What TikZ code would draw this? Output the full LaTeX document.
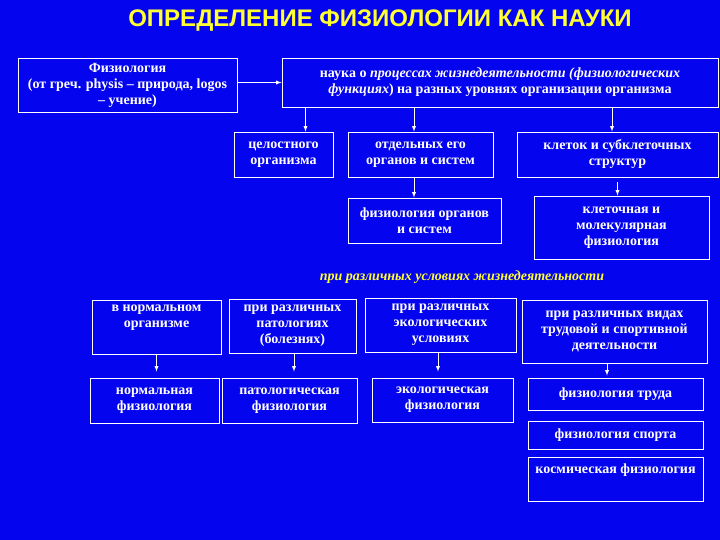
\documentclass[tikz,border=0pt]{standalone}
\usepackage{fontspec}
\setmainfont{Liberation Serif}
\newfontfamily\headfont{Liberation Sans}
\usepackage{tikz}
\usetikzlibrary{calc}
\definecolor{slideblue}{RGB}{4,4,238}
\definecolor{slideyellow}{RGB}{255,255,50}
\tikzset{
    box/.style={draw=white, line width=0.9pt, text=white, align=center, inner sep=2pt,
        font=\bfseries\fontsize{14}{16}\selectfont},
    arrow/.style={->, >=latex, white, line width=0.9pt},
    headline/.style={text=slideyellow, font=\headfont\bfseries\fontsize{24}{26}\selectfont},
    sublabel/.style={text=slideyellow, font=\bfseries\itshape\fontsize{14}{16}\selectfont}
}

\begin{document}
\begin{tikzpicture}[x=1pt, y=-1pt]
            \fill[slideblue] (0,0) rectangle (720,540);

            % 1. Title
            \node[headline] (title) at (380,21) {ОПРЕДЕЛЕНИЕ ФИЗИОЛОГИИ КАК НАУКИ};

            % 2. Definition
            \node[box, minimum width=219pt, minimum height=54pt] (phys) at (127.5,85)
                {Физиология\\(от греч. physis – природа, logos\\– учение)};
            \node[box, minimum width=436pt, minimum height=49pt] (sci) at (500,82.5)
                {наука о \textit{процессах жизнедеятельности (физиологических}\\\textit{функциях}) на разных уровнях организации организма};
            \draw[arrow] (phys.east |- sci.west) -- (sci.west);

            % 3. Levels of organisation
            \node[box, minimum width=99pt, minimum height=45pt] (whole) at (283.5,154.5) {целостного\\организма};
            \node[box, minimum width=145pt, minimum height=45pt] (organs) at (420.5,154.5) {отдельных его\\органов и систем};
            \node[box, minimum width=201pt, minimum height=45pt] (cells) at (617.5,154.5) {клеток и субклеточных\\структур};
            \draw[arrow] ([xshift=22pt]whole.north |- sci.south) -- ([xshift=22pt]whole.north);
            \draw[arrow] ([xshift=-6.5pt]organs.north |- sci.south) -- ([xshift=-6.5pt]organs.north);
            \draw[arrow] ([xshift=-5.5pt]cells.north |- sci.south) -- ([xshift=-5.5pt]cells.north);

            \node[box, minimum width=153pt, minimum height=45pt] (orgphys) at (424.5,220.5) {физиология органов\\и систем};
            \node[box, minimum width=175pt, minimum height=63pt] (cellphys) at (621.5,227.5) {клеточная и\\молекулярная\\физиология};
            \draw[arrow] ([xshift=-6.5pt]organs.south) -- ([xshift=-6.5pt]organs.south |- orgphys.north);
            \draw[arrow, shorten <=5pt] (cells.south) -- (cells.south |- cellphys.north);

            % 4. Conditions
            \node[sublabel] (cond) at (462,277) {при различных условиях жизнедеятельности};

            \node[box, minimum width=129pt, minimum height=54pt] (norm) at (156.5,327) {в нормальном\\организме\\\strut};
            \node[box, minimum width=127pt, minimum height=54pt] (path) at (292.5,326) {при различных\\патологиях\\(болезнях)};
            \node[box, minimum width=151pt, minimum height=54pt] (eco) at (440.5,325) {при различных\\экологических\\условиях};
            \node[box, minimum width=185pt, minimum height=63pt] (work) at (614.5,331.5) {при различных видах\\трудовой и спортивной\\деятельности};

            \node[box, minimum width=129pt, minimum height=45pt] (normphys) at (154.5,400.5) {нормальная\\физиология};
            \node[box, minimum width=135pt, minimum height=45pt] (pathphys) at (289.5,400.5) {патологическая\\физиология};
            \node[box, minimum width=141pt, minimum height=44pt] (ecophys) at (442.5,400) {экологическая\\физиология};
            \node[box, minimum width=175pt, minimum height=32pt] (workphys) at (615.5,394) {физиология труда};
            \node[box, minimum width=175pt, minimum height=28pt] (sport) at (615.5,435) {физиология спорта};
            \node[box, minimum width=175pt, minimum height=44pt] (space) at (615.5,479) {космическая физиология\\\strut};

            \draw[arrow, shorten >=6pt] (norm.south) -- (norm.south |- normphys.north);
            \draw[arrow, shorten >=6pt] ([xshift=1.5pt]path.south) -- ([xshift=1.5pt]path.south |- pathphys.north);
            \draw[arrow, shorten >=6pt] ([xshift=-2.5pt]eco.south) -- ([xshift=-2.5pt]eco.south |- ecophys.north);
            \draw[arrow, shorten >=2pt] ([xshift=-7.5pt]work.south) -- ([xshift=-7.5pt]work.south |- workphys.north);
        \end{tikzpicture}
\end{document}
